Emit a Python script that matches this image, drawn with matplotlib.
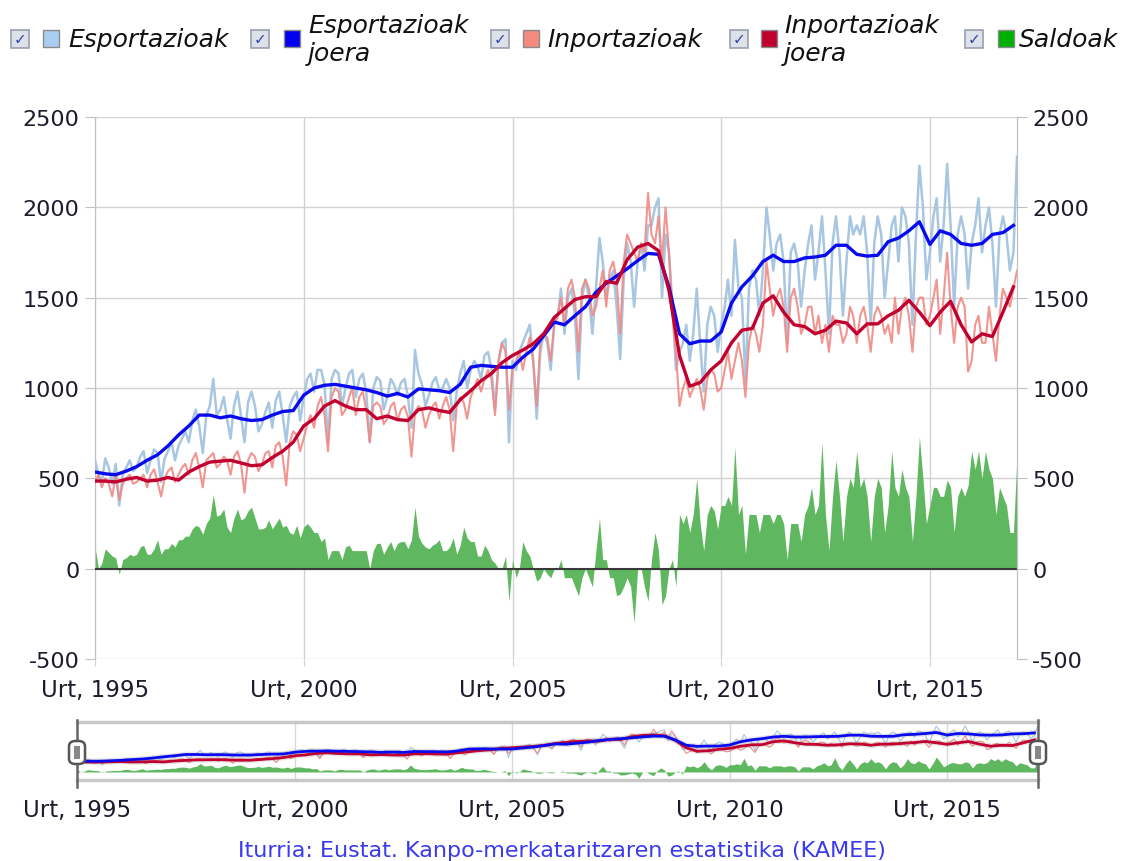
import numpy as np
import pandas as pd
import matplotlib
matplotlib.use('Agg')
import matplotlib.pyplot as plt
from matplotlib.patches import Rectangle, FancyBboxPatch

# Hileko balioak (milioi euro), 1995 urtarrila - 2017 otsaila
esportazioak = [
    600, 520, 480, 610, 560, 470, 580, 350, 520, 560, 600, 540,        # 1995
    560, 620, 650, 530, 600, 660, 640, 480, 610, 650, 700, 600,        # 1996
    680, 720, 760, 700, 820, 880, 790, 640, 850, 900, 1050, 850,       # 1997
    880, 950, 830, 720, 900, 980, 850, 700, 920, 980, 900, 760,        # 1998
    800, 870, 920, 780, 930, 980, 850, 700, 900, 950, 980, 820,        # 1999
    950, 1050, 1080, 980, 1100, 1100, 1020, 700, 1050, 1100, 1080, 900,  # 2000
    1000, 1080, 1100, 950, 1050, 1080, 980, 700, 1000, 1060, 1040, 880,  # 2001
    950, 1050, 1020, 960, 1030, 1050, 950, 780, 1210, 1080, 1020, 900,  # 2002
    960, 1030, 1060, 990, 1000, 1050, 1000, 820, 980, 1080, 1150, 1000,  # 2003
    1100, 1150, 1120, 1050, 1180, 1200, 1100, 880, 1150, 1250, 1270, 700,  # 2004
    1150, 1100, 1200, 1250, 1300, 1350, 1150, 830, 1200, 1300, 1250, 1100,  # 2005
    1350, 1400, 1550, 1300, 1500, 1550, 1400, 1050, 1500, 1600, 1500, 1300,  # 2006
    1550, 1830, 1700, 1500, 1600, 1650, 1450, 1160, 1600, 1800, 1700, 1450,  # 2007
    1700, 1800, 1650, 1900, 1900, 2000, 2050, 1500, 1850, 1750, 1450, 1100,  # 2008
    1200, 1250, 1350, 1150, 1300, 1550, 1250, 980, 1350, 1450, 1400, 1200,  # 2009
    1350, 1450, 1600, 1400, 1820, 1550, 1500, 1030, 1550, 1650, 1600, 1400,  # 2010
    1650, 2000, 1850, 1650, 1800, 1850, 1700, 1250, 1750, 1800, 1700, 1450,  # 2011
    1650, 1800, 1900, 1600, 1750, 1950, 1650, 1300, 1800, 1950, 1750, 1400,  # 2012
    1700, 1950, 1850, 1900, 1850, 1950, 1750, 1350, 1800, 1950, 1850, 1500,  # 2013
    1700, 1900, 1950, 1700, 2000, 1950, 1800, 1350, 1850, 2230, 2000, 1600,  # 2014
    1750, 1950, 2050, 1700, 1900, 2240, 1900, 1450, 1850, 1950, 1850, 1550,  # 2015
    1800, 1900, 2050, 1750, 1900, 2000, 1800, 1450, 1850, 1950, 1850, 1650,  # 2016
    1750, 2280,                                                          # 2017
]

inportazioak = [
    480, 520, 450, 500, 470, 400, 520, 380, 470, 500, 520, 470,        # 1995
    480, 500, 520, 450, 520, 550, 480, 400, 500, 540, 560, 480,        # 1996
    520, 560, 580, 520, 600, 640, 560, 450, 600, 620, 640, 560,        # 1997
    580, 620, 600, 520, 620, 650, 580, 420, 600, 640, 620, 540,        # 1998
    580, 640, 650, 560, 680, 700, 620, 460, 700, 760, 740, 650,        # 1999
    720, 800, 850, 780, 900, 950, 850, 650, 950, 1000, 980, 850,       # 2000
    880, 950, 1000, 850, 950, 980, 880, 700, 900, 920, 900, 800,       # 2001
    830, 900, 920, 820, 880, 900, 840, 620, 870, 900, 880, 780,        # 2002
    850, 900, 920, 830, 900, 950, 880, 650, 900, 950, 920, 830,        # 2003
    950, 1000, 1050, 980, 1050, 1100, 1050, 850, 1150, 1250, 1200, 880,  # 2004
    1100, 1150, 1200, 1100, 1200, 1280, 1150, 900, 1250, 1300, 1280, 1150,  # 2005
    1350, 1400, 1500, 1350, 1550, 1600, 1500, 1200, 1550, 1600, 1550, 1400,  # 2006
    1450, 1550, 1650, 1450, 1650, 1700, 1600, 1300, 1700, 1850, 1800, 1750,  # 2007
    1700, 1800, 1750, 2080, 1850, 1800, 1950, 1700, 2000, 1750, 1400, 1200,  # 2008
    900, 1000, 1050, 950, 1000, 1050, 1000, 880, 1050, 1100, 1080, 980,    # 2009
    1000, 1100, 1200, 1050, 1150, 1250, 1150, 950, 1250, 1350, 1300, 1200,  # 2010
    1350, 1700, 1550, 1400, 1500, 1550, 1450, 1200, 1500, 1550, 1450, 1300,  # 2011
    1350, 1450, 1450, 1300, 1400, 1250, 1350, 1200, 1400, 1350, 1350, 1250,  # 2012
    1300, 1450, 1400, 1250, 1400, 1450, 1350, 1200, 1400, 1450, 1400, 1300,  # 2013
    1350, 1250, 1500, 1300, 1450, 1500, 1400, 1200, 1450, 1500, 1500, 1350,  # 2014
    1400, 1500, 1600, 1300, 1500, 1750, 1450, 1250, 1450, 1500, 1450, 1090,  # 2015
    1150, 1350, 1400, 1250, 1250, 1450, 1300, 1150, 1400, 1550, 1500, 1450,  # 2016
    1550, 1650,                                                          # 2017
]

# Joerak, hiru hilean behin (urt, api, uzt, urr)
esportazioak_joera = [
    535, 525, 520, 540, 565, 600, 630, 680, 740, 790, 850, 850,
    835, 845, 830, 820, 825, 850, 870, 875, 960, 1000, 1015, 1020,
    1010, 1000, 990, 975, 955, 970, 950, 995, 990, 985, 975, 1020,
    1115, 1125, 1120, 1115, 1115, 1170, 1215, 1290, 1365, 1350, 1400, 1450,
    1530, 1580, 1620, 1660, 1705, 1745, 1740, 1560, 1300, 1245, 1260, 1260,
    1310, 1470, 1560, 1620, 1700, 1735, 1700, 1700, 1720, 1725, 1735, 1790,
    1790, 1740, 1730, 1735, 1810, 1830, 1870, 1920, 1795, 1870, 1850, 1800,
    1790, 1800, 1850, 1860, 1900,
]

inportazioak_joera = [
    485, 485, 480, 495, 505, 485, 490, 505, 490, 535, 565, 590,
    595, 600, 585, 570, 575, 615, 650, 700, 790, 830, 900, 930,
    900, 880, 880, 830, 845, 825, 820, 880, 890, 875, 865, 935,
    985, 1040, 1080, 1140, 1180, 1210, 1245, 1300, 1390, 1440, 1490, 1505,
    1505, 1590, 1580, 1710, 1780, 1800, 1760, 1540, 1180, 1010, 1030, 1100,
    1150, 1250, 1320, 1330, 1470, 1510, 1420, 1350, 1340, 1300, 1320, 1370,
    1360, 1300, 1355, 1355, 1400, 1430, 1485, 1420, 1345, 1420, 1480, 1350,
    1255, 1300, 1285, 1420, 1560,
]

urteak = [1995, 2000, 2005, 2010, 2015]
y_ticks = [-500, 0, 500, 1000, 1500, 2000, 2500]

legend_labels = ['Esportazioak', 'Esportazioak\njoera', 'Inportazioak', 'Inportazioak\njoera', 'Saldoak']
legend_colors = ['#a9cdef', '#0000ee', '#f4897f', '#c0002d', '#00b000']

iturria = 'Iturria: Eustat. Kanpo-merkataritzaren estatistika (KAMEE)'

# koloreak
c_esp = '#a7c6e2'
c_esp_j = '#0a0aee'
c_inp = '#f08a84'
c_inp_j = '#c20030'
c_saldo = '#5fb85f'
c_txt = '#1c1c2c'

hilak = pd.date_range('1995-01-01', periods=len(esportazioak), freq='MS')
hiruhil = pd.date_range('1995-01-01', periods=len(esportazioak_joera), freq='3MS')
saldoak = np.array(esportazioak) - np.array(inportazioak)
tick_dates = pd.to_datetime(['%d-01-01' % u for u in urteak])
tick_labels = ['Urt, %d' % u for u in urteak]

W, H = 1124, 862
fig = plt.figure(figsize=(W / 100, H / 100), dpi=100)
fig.patch.set_facecolor('white')

# --- grafiko nagusia ---
ax = fig.add_axes([95 / W, 1 - 660 / H, 922 / W, 542 / H])
ax.fill_between(hilak, 0, saldoak, color=c_saldo, lw=0, zorder=2)
ax.axhline(0, color='#3a3a3a', lw=1.5, zorder=3)
ax.plot(hilak, esportazioak, color=c_esp, lw=1.8, zorder=4)
ax.plot(hilak, inportazioak, color=c_inp, lw=1.5, alpha=0.9, zorder=4)
ax.plot(hiruhil, esportazioak_joera, color=c_esp_j, lw=2.4, zorder=5)
ax.plot(hiruhil, inportazioak_joera, color=c_inp_j, lw=2.4, zorder=5)

ax.set_xlim(hilak[0], hilak[-1])
ax.set_ylim(-500, 2500)
ax.set_yticks(y_ticks)
ax.set_yticklabels([str(v) for v in y_ticks])
ax.set_xticks(tick_dates)
ax.set_xticklabels(tick_labels)
ax.grid(True, color='#d2d2d2', lw=1, zorder=0)
ax.tick_params(axis='y', length=7, color='#c0c0c0', labelsize=16, labelcolor=c_txt, pad=4)
ax.tick_params(axis='x', length=5, color='#d2d2d2', labelsize=16.5, labelcolor=c_txt, pad=9)
for s in ['top', 'bottom']:
    ax.spines[s].set_visible(False)
for s in ['left', 'right']:
    ax.spines[s].set_color('#c0c0c0')

ax2 = ax.twinx()
ax2.set_ylim(-500, 2500)
ax2.set_yticks(y_ticks)
ax2.set_yticklabels([str(v) for v in y_ticks])
ax2.tick_params(axis='y', length=7, color='#c0c0c0', labelsize=16, labelcolor=c_txt, pad=4)
for s in ['top', 'bottom', 'left']:
    ax2.spines[s].set_visible(False)
ax2.spines['right'].set_color('#c0c0c0')

# --- nabigatzailea ---
nav = fig.add_axes([77 / W, 1 - 781 / H, 961 / W, 58 / H])
nav.fill_between(hilak, 0, saldoak, color=c_saldo, lw=0, zorder=2)
nav.plot(hilak, esportazioak, color=c_esp, lw=0.8, zorder=3)
nav.plot(hilak, inportazioak, color=c_inp, lw=0.8, zorder=3)
nav.plot(hiruhil, inportazioak_joera, color='#999999', lw=4, alpha=0.25, zorder=3)
nav.plot(hiruhil, esportazioak_joera, color='#999999', lw=4, alpha=0.25, zorder=3)
nav.plot(hiruhil, inportazioak_joera, color=c_inp_j, lw=2, zorder=4)
nav.plot(hiruhil, esportazioak_joera, color=c_esp_j, lw=2, zorder=5)
nav.set_xlim(hilak[0], hilak[-1])
nav.set_ylim(-390, 2430)
nav.set_yticks([])
nav.set_xticks(tick_dates)
nav.set_xticklabels(tick_labels)
nav.grid(True, axis='x', color='#d8d8d8', lw=1, zorder=0)
nav.tick_params(axis='x', length=0, labelsize=16.5, labelcolor=c_txt, pad=13)
for s in ['top', 'bottom']:
    nav.spines[s].set_color('#c8c8c8')
    nav.spines[s].set_linewidth(2.5)
for s in ['left', 'right']:
    nav.spines[s].set_visible(False)

# heldulekuak
for hx in [77, 1038]:
    fig.add_artist(plt.Line2D([hx / W] * 2, [1 - 788 / H, 1 - 721 / H],
                              transform=fig.transFigure, color='#666666', lw=1.8, zorder=9))
    fig.add_artist(FancyBboxPatch(((hx - 8) / W, 1 - 765 / H), 16 / W, 23 / H,
                                  boxstyle='round,pad=0,rounding_size=0.006',
                                  transform=fig.transFigure, fc='white', ec='#555555', lw=1.8, zorder=10))
    fig.add_artist(Rectangle(((hx - 3) / W, 1 - 760 / H), 6 / W, 13 / H,
                             transform=fig.transFigure, fc='#888888', ec='none', zorder=11))

# --- legenda ---
box_x = [11, 251, 491, 730, 965]
sq_x = [43, 284, 523, 761, 998]
txt_x = [68, 308, 547, 784, 1019]
for i in range(len(legend_labels)):
    fig.add_artist(Rectangle((box_x[i] / W, 1 - 49 / H), 18 / W, 18 / H, transform=fig.transFigure,
                             fc='#dde1ea', ec='#9a9fae', lw=1.2))
    fig.text((box_x[i] + 9) / W, 1 - 40 / H, '\u2713', ha='center', va='center',
             fontsize=11, color='#3346a0', fontweight='bold')
    fig.add_artist(Rectangle((sq_x[i] / W, 1 - 48 / H), 16 / W, 17 / H, transform=fig.transFigure,
                             fc=legend_colors[i], ec='#8a8a8a', lw=1))
    fig.text(txt_x[i] / W, 1 - 40 / H, legend_labels[i], ha='left', va='center',
             fontsize=18, style='italic', color='#111111', linespacing=1.25)

fig.text(562 / W, 1 - 851 / H, iturria, ha='center', va='center', fontsize=16, color='#3a3aee')

plt.savefig('out.png', dpi=100)
